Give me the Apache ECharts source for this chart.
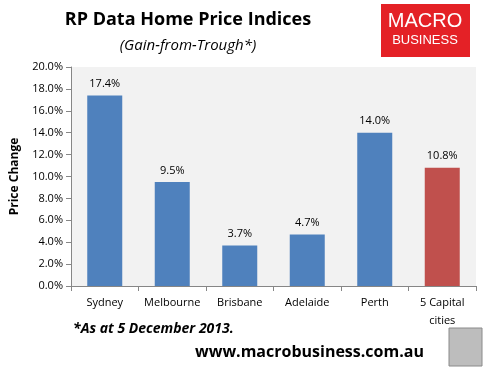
<!DOCTYPE html>
<html><head><meta charset="utf-8">
<script src="https://cdn.jsdelivr.net/npm/echarts@6/dist/echarts.min.js"></script>
<style>html,body{margin:0;padding:0;background:#fff}#c{width:488px;height:374px}</style>
</head><body><div id="c"></div>
<script>
var categories = ['Sydney', 'Melbourne', 'Brisbane', 'Adelaide', 'Perth', '5 Capital\ncities'];
var values = [17.4, 9.5, 3.7, 4.7, 14.0, 10.8];
var barColors = ['#4f81bd', '#4f81bd', '#4f81bd', '#4f81bd', '#4f81bd', '#c0504d'];
var chart = echarts.init(document.getElementById('c'));
var font = '"Open Sans", "DejaVu Sans", sans-serif';
chart.setOption({
  animation: false,
  grid: {left: 71, right: 12, top: 67, bottom: 88, backgroundColor: '#f2f2f2', show: true, borderWidth: 0},
  title: [
    {text: 'RP Data Home Price Indices', left: 183, top: 6, textAlign: 'center',
     textStyle: {fontFamily: font, fontSize: 18, fontWeight: 'bold', color: '#000'}},
    {text: '(Gain-from-Trough*)', left: 183, top: 33, textAlign: 'center',
     textStyle: {fontFamily: font, fontSize: 15, fontStyle: 'italic', fontWeight: 'normal', color: '#000'}}
  ],
  xAxis: {type: 'category', data: categories,
    axisLine: {lineStyle: {color: '#868686'}},
    axisTick: {show: true, alignWithLabel: false, length: 5, lineStyle: {color: '#868686'}},
    axisLabel: {interval: 0, fontFamily: font, fontSize: 11, color: '#000', margin: 8, lineHeight: 18}
  },
  yAxis: {type: 'value', min: 0, max: 20, interval: 2,
    name: 'Price Change', nameLocation: 'middle', nameGap: 50,
    nameTextStyle: {fontFamily: font, fontSize: 12, fontWeight: 'bold', color: '#000'},
    axisLine: {show: true, lineStyle: {color: '#868686'}},
    axisTick: {show: true, length: 5, inside: false, lineStyle: {color: '#868686'}},
    splitLine: {show: false},
    axisLabel: {fontFamily: font, fontSize: 11, color: '#000', margin: 8,
      formatter: function(v){return v.toFixed(1) + '%';}}
  },
  series: [{type: 'bar', barWidth: 35,
    data: values.map(function(v, i){return {value: v, itemStyle: {color: barColors[i]}};}),
    label: {show: true, position: 'top', distance: 6, fontFamily: font, fontSize: 11, color: '#000',
      formatter: function(p){return p.value.toFixed(1) + '%';}}
  }],
  graphic: [
    {type: 'rect', shape: {x: 381, y: 4, width: 89, height: 53}, style: {fill: '#e42126'}},
    {type: 'text', style: {text: 'MACRO', x: 425, y: 11, textAlign: 'center', textVerticalAlign: 'top', fill: '#fff', font: '20px "Liberation Sans", Arial, sans-serif'}},
    {type: 'text', style: {text: 'BUSINESS', x: 425, y: 34, textAlign: 'center', textVerticalAlign: 'top', fill: '#fff', font: '13px "Liberation Sans", Arial, sans-serif'}},
    {type: 'text', style: {text: '*As at 5 December 2013.', x: 73, y: 322, fill: '#000', font: 'italic bold 14px "Open Sans", sans-serif'}},
    {type: 'text', style: {text: 'www.macrobusiness.com.au', x: 195, y: 344, fill: '#000', font: 'bold 16px "Open Sans", sans-serif'}},
    {type: 'rect', shape: {x: 449, y: 328, width: 33, height: 38}, style: {fill: '#bdbdbd', stroke: '#8a8a8a', lineWidth: 1}}
  ]
});
</script></body></html>
